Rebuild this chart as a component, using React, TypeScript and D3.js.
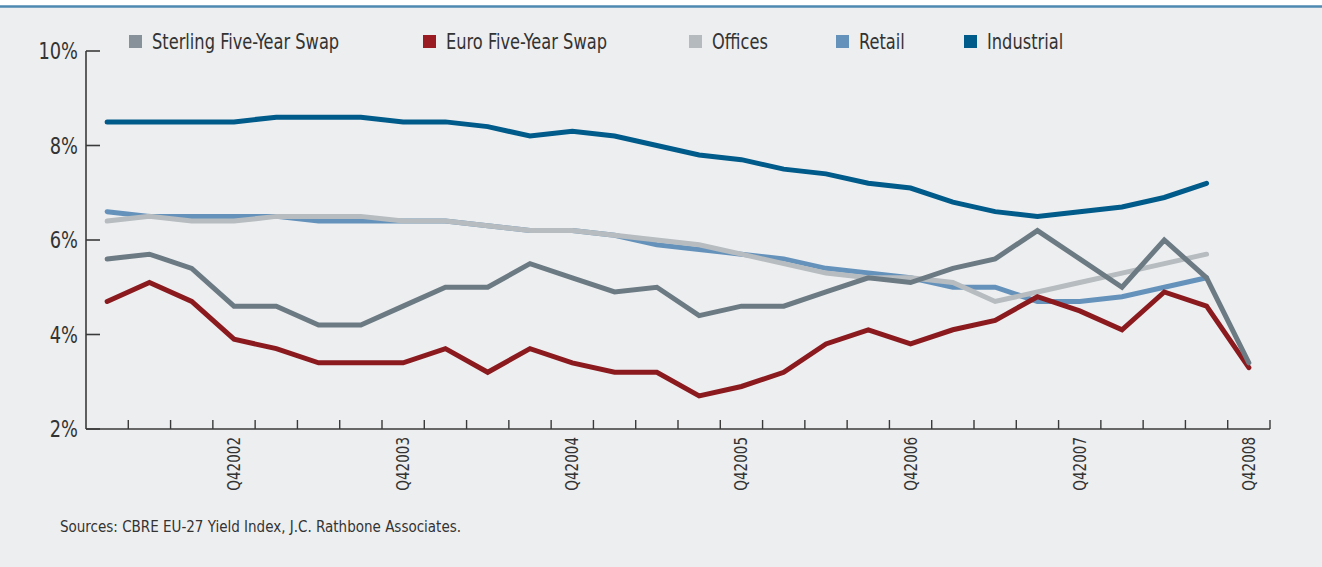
import React from "react";
import * as d3 from "d3";

const quarters = [
  "Q12002","Q22002","Q32002","Q42002",
  "Q12003","Q22003","Q32003","Q42003",
  "Q12004","Q22004","Q32004","Q42004",
  "Q12005","Q22005","Q32005","Q42005",
  "Q12006","Q22006","Q32006","Q42006",
  "Q12007","Q22007","Q32007","Q42007",
  "Q12008","Q22008","Q32008","Q42008",
];

const sterlingSwap = [5.6,5.7,5.4,4.6,4.6,4.2,4.2,4.6,5.0,5.0,5.5,5.2,4.9,5.0,4.4,4.6,4.6,4.9,5.2,5.1,5.4,5.6,6.2,5.6,5.0,6.0,5.2,3.4];
const euroSwap = [4.7,5.1,4.7,3.9,3.7,3.4,3.4,3.4,3.7,3.2,3.7,3.4,3.2,3.2,2.7,2.9,3.2,3.8,4.1,3.8,4.1,4.3,4.8,4.5,4.1,4.9,4.6,3.3];
const offices = [6.4,6.5,6.4,6.4,6.5,6.5,6.5,6.4,6.4,6.3,6.2,6.2,6.1,6.0,5.9,5.7,5.5,5.3,5.2,5.2,5.1,4.7,4.9,5.1,5.3,5.5,5.7];
const retail = [6.6,6.5,6.5,6.5,6.5,6.4,6.4,6.4,6.4,6.3,6.2,6.2,6.1,5.9,5.8,5.7,5.6,5.4,5.3,5.2,5.0,5.0,4.7,4.7,4.8,5.0,5.2];
const industrial = [8.5,8.5,8.5,8.5,8.6,8.6,8.6,8.5,8.5,8.4,8.2,8.3,8.2,8.0,7.8,7.7,7.5,7.4,7.2,7.1,6.8,6.6,6.5,6.6,6.7,6.9,7.2];

const yTicks = [2, 4, 6, 8, 10];
const xLabelQuarters = ["Q42002","Q42003","Q42004","Q42005","Q42006","Q42007","Q42008"];

const seriesNames = ["Sterling Five-Year Swap","Euro Five-Year Swap","Offices","Retail","Industrial"];
const seriesData = [sterlingSwap, euroSwap, offices, retail, industrial];
const lineColors = ["#6b7a83","#8b1a1f","#b6bcbf","#6592bb","#005a8a"];
const swatchColors = ["#87919a","#9a1c22","#b4babd","#6592bb","#005a8a"];
const drawOrder = [3, 2, 1, 0, 4];
const legendX = [129, 423, 689, 836, 964];

const sourceText = "Sources: CBRE EU-27 Yield Index, J.C. Rathbone Associates.";

const FONT = "'Liberation Sans Narrow', 'Arial Narrow', 'DejaVu Sans Condensed', 'Roboto Condensed', sans-serif";
const NARROW = 0.86;

export default function App() {
  const W = 1322, H = 567;
  const x = d3.scaleBand<string>().domain(quarters).range([86, 1270]).paddingInner(0).paddingOuter(0);
  const y = d3.scaleLinear().domain([2, 10]).range([429, 51]);
  const cx = (i: number) => (x(quarters[i]) as number) + x.bandwidth() / 2;
  const line = d3.line<number>().x((_, i) => cx(i)).y((d) => y(d));
  const textColor = "#333333";

  return (
    <svg width={W} height={H} style={{ position: "fixed", left: 0, top: 0, display: "block" }} fontFamily={FONT}>
      <rect x={0} y={0} width={W} height={H} fill="#ffffff" />
      <rect x={0} y={7} width={W} height={H - 7} fill="#edeef0" />
      <line x1={0} x2={W} y1={6.5} y2={6.5} stroke="#4d89b0" strokeWidth={2.5} />

      {/* legend */}
      {seriesNames.map((name, i) => (
        <g key={name}>
          <rect x={legendX[i]} y={35} width={13} height={13} fill={swatchColors[i]} />
          <text transform={`translate(${legendX[i] + 23},48.5) scale(${NARROW},1)`} fontSize={21} fill={textColor}>{name}</text>
        </g>
      ))}

      {/* y axis */}
      <line x1={86} x2={86} y1={y(10)} y2={y(2)} stroke="#3a3a3a" strokeWidth={1.6} />
      {yTicks.map((t) => (
        <g key={t}>
          <line x1={86} x2={100} y1={y(t)} y2={y(t)} stroke="#3a3a3a" strokeWidth={1.6} />
          <text transform={`translate(78,${y(t) + 8}) scale(${NARROW},1)`} textAnchor="end" fontSize={23} fill={textColor}>{t}%</text>
        </g>
      ))}

      {/* x axis */}
      <line x1={86} x2={1270} y1={429} y2={429} stroke="#3a3a3a" strokeWidth={1.6} />
      {quarters.map((q) => (
        <line key={q} x1={(x(q) as number) + x.bandwidth()} x2={(x(q) as number) + x.bandwidth()} y1={420} y2={429} stroke="#3a3a3a" strokeWidth={1.4} />
      ))}
      {xLabelQuarters.map((q) => {
        const px = (x(q) as number) + x.bandwidth() / 2;
        return (
          <text key={q} transform={`translate(${px + 6},437) rotate(-90) scale(${NARROW},1)`} textAnchor="end" fontSize={17.5} fill={textColor}>{q}</text>
        );
      })}

      {/* lines */}
      {drawOrder.map((si) => (
        <path key={si} d={line(seriesData[si]) as string} fill="none" stroke={lineColors[si]} strokeWidth={5} strokeLinecap="round" strokeLinejoin="miter" />
      ))}

      <text x={60} y={532} fontSize={16} fill={textColor} textLength={401} lengthAdjust="spacingAndGlyphs">{sourceText}</text>
    </svg>
  );
}
